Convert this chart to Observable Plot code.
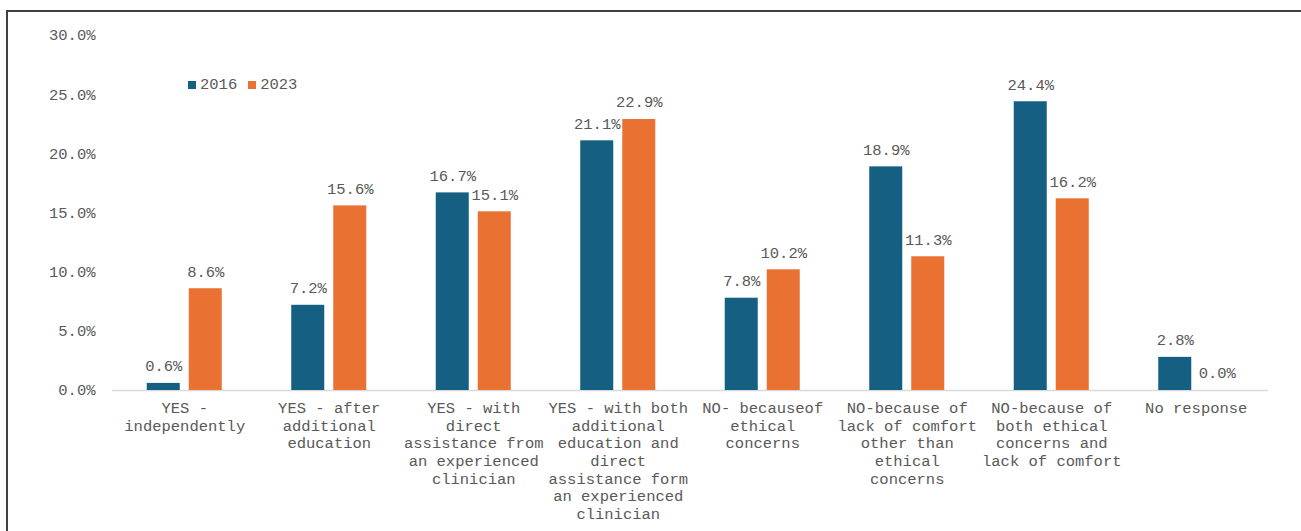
<!DOCTYPE html>
<html><head><meta charset="utf-8">
<script src="https://cdn.jsdelivr.net/npm/d3@7"></script>
<script src="https://cdn.jsdelivr.net/npm/@observablehq/plot@0.6"></script>
<style>
html,body{margin:0;padding:0;background:#fff;overflow:hidden;width:1301px;height:531px}
#wrap{position:relative;width:1301px;height:531px;overflow:hidden}
#frame{position:absolute;left:6px;top:10px;width:1400px;height:600px;border-left:2px solid #404040;border-top:2px solid #404040;box-sizing:border-box}
#chart{position:absolute;left:0;top:0}
#legend{position:absolute;left:188px;top:76px;font-family:"Liberation Mono",monospace;font-size:15.5px;color:#595959;display:flex;align-items:center;line-height:18px}
#legend .item{display:flex;align-items:center;margin-right:11px}
#legend .sw{width:8px;height:8px;margin-right:4px}
</style></head>
<body>
<div id="wrap"><div id="frame"></div><div id="chart"></div><div id="legend"></div></div>
<script>
const categories = [
  "YES - independently",
  "YES - after additional education",
  "YES - with direct assistance from an experienced clinician",
  "YES - with both additional education and direct assistance form an experienced clinician",
  "NO- becauseof ethical concerns",
  "NO-because of lack of comfort other than ethical concerns",
  "NO-because of both ethical concerns and lack of comfort",
  "No response"
];
const tickLabels = [
  "YES -\nindependently",
  "YES - after\nadditional\neducation",
  "YES - with\ndirect\nassistance from\nan experienced\nclinician",
  "YES - with both\nadditional\neducation and\ndirect\nassistance form\nan experienced\nclinician",
  "NO- becauseof\nethical\nconcerns",
  "NO-because of\nlack of comfort\nother than\nethical\nconcerns",
  "NO-because of\nboth ethical\nconcerns and\nlack of comfort",
  "No response"
];
const years = ["2016", "2023"];
const colors = ["#156082", "#E97132"];
const values2016 = [0.6, 7.2, 16.7, 21.1, 7.8, 18.9, 24.4, 2.8];
const values2023 = [8.6, 15.6, 15.1, 22.9, 10.2, 11.3, 16.2, 0.0];
const yTicks = [0, 5, 10, 15, 20, 25, 30];

const data = categories.flatMap((c, i) => [
  {category: c, year: years[0], value: values2016[i]},
  {category: c, year: years[1], value: values2023[i]}
]);

const font = "Liberation Mono, Courier New, monospace";
const chart = Plot.plot({
  width: 1301, height: 531,
  marginLeft: 112, marginRight: 33, marginTop: 35, marginBottom: 141,
  style: {fontFamily: font, fontSize: "15.5px", color: "#595959", background: "transparent", overflow: "visible"},
  fx: {domain: categories, padding: 0, round: false},
  x: {domain: years, paddingInner: 9/42, paddingOuter: 0.827, round: false, axis: null},
  y: {domain: [0, 30]},
  color: {domain: years, range: colors},
  marks: [
    Plot.axisY({ticks: yTicks, tickFormat: d => d.toFixed(1) + "%", tickSize: 0, tickPadding: 17, label: null, fontSize: 15.5}),
    Plot.axisFx({anchor: "bottom", tickSize: 0, tickPadding: 10, label: null, fontSize: 15.5, lineHeight: 1.14,
      tickFormat: d => tickLabels[categories.indexOf(d)]}),
    Plot.ruleY([0], {stroke: "#d9d9d9", strokeWidth: 1.5}),
    Plot.barY(data, {fx: "category", x: "year", y: "value", fill: "year"}),
    Plot.text(data, {fx: "category", x: "year", y: "value", text: d => d.value.toFixed(1) + "%",
      dy: -17, lineAnchor: "middle", fill: "#595959", fontSize: 15.5})
  ]
});
document.getElementById("chart").appendChild(chart);

const legend = document.getElementById("legend");
years.forEach((y, i) => {
  const item = document.createElement("div");
  item.className = "item";
  const sw = document.createElement("div");
  sw.className = "sw";
  sw.style.background = colors[i];
  const t = document.createElement("span");
  t.textContent = y;
  item.appendChild(sw); item.appendChild(t);
  legend.appendChild(item);
});
</script>
</body></html>
